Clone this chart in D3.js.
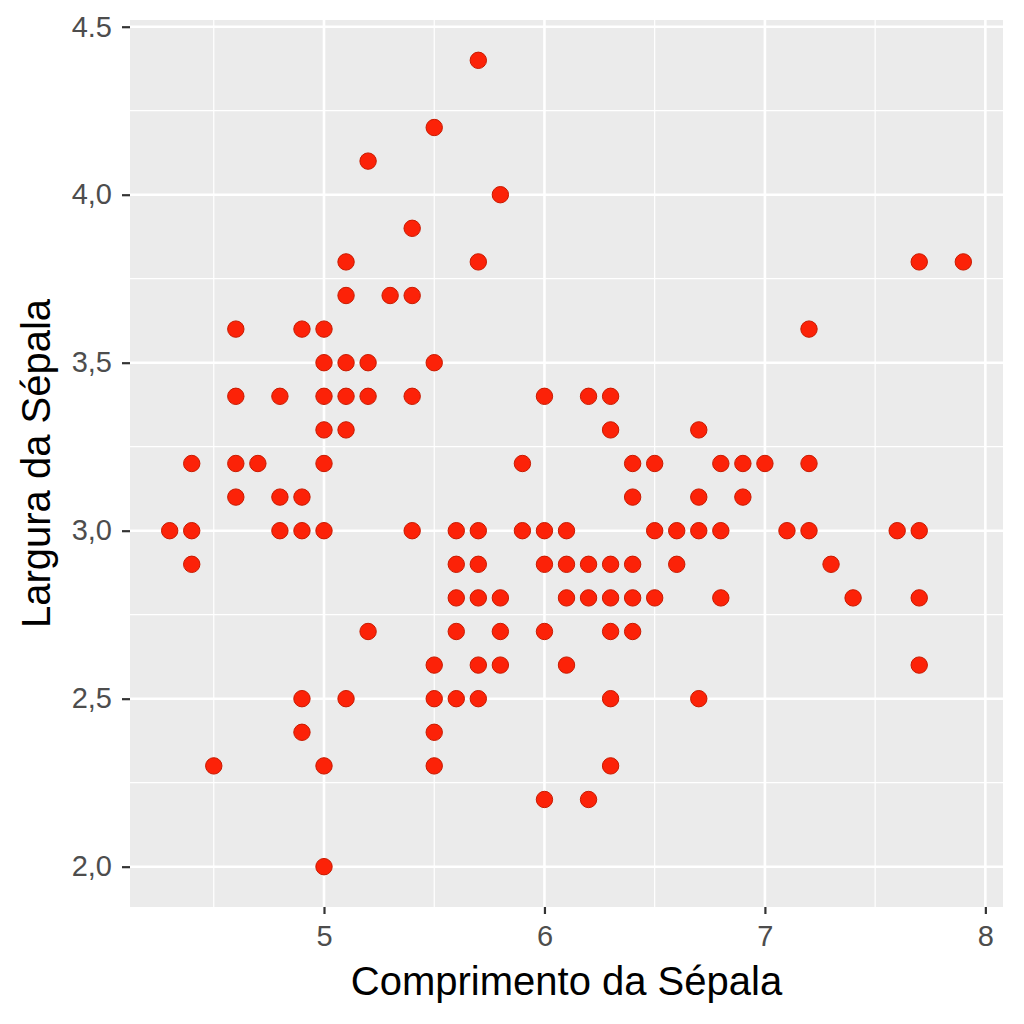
<!DOCTYPE html>
<html>
<head>
<meta charset="utf-8">
<script src="https://cdn.jsdelivr.net/npm/d3@7"></script>
<style>
  body { margin: 0; background: #fff; }
  svg { display: block; font-family: "Liberation Sans", Arial, sans-serif; }
</style>
</head>
<body>
<div id="container"></div>
<script>
const width = 1024;
const height = 1024;

// sepal length values, each with the widths seen at that length
const lengths = [4.3, 4.4, 4.5, 4.6, 4.7, 4.8, 4.9, 5.0, 5.1, 5.2, 5.3, 5.4, 5.5, 5.6, 5.7, 5.8, 5.9,
  6.0, 6.1, 6.2, 6.3, 6.4, 6.5, 6.6, 6.7, 6.8, 6.9, 7.0, 7.1, 7.2, 7.3, 7.4, 7.6, 7.7, 7.9];
const widths = [
  [3.0],
  [3.2, 3.0, 2.9],
  [2.3],
  [3.6, 3.4, 3.2, 3.1],
  [3.2],
  [3.4, 3.1, 3.0],
  [3.6, 3.1, 3.0, 2.5, 2.4],
  [3.6, 3.5, 3.4, 3.3, 3.2, 3.0, 2.3, 2.0],
  [3.8, 3.7, 3.5, 3.4, 3.3, 2.5],
  [4.1, 3.5, 3.4, 2.7],
  [3.7],
  [3.9, 3.7, 3.4, 3.0],
  [4.2, 3.5, 2.6, 2.5, 2.4, 2.3],
  [3.0, 2.9, 2.8, 2.7, 2.5],
  [4.4, 3.8, 3.0, 2.9, 2.8, 2.6, 2.5],
  [4.0, 2.8, 2.7, 2.6],
  [3.2, 3.0],
  [3.4, 3.0, 2.9, 2.7, 2.2],
  [3.0, 2.9, 2.8, 2.6],
  [3.4, 2.9, 2.8, 2.2],
  [3.4, 3.3, 2.9, 2.8, 2.7, 2.5, 2.3],
  [3.2, 3.1, 2.9, 2.8, 2.7],
  [3.2, 3.0, 2.8],
  [3.0, 2.9],
  [3.3, 3.1, 3.0, 2.5],
  [3.2, 3.0, 2.8],
  [3.2, 3.1],
  [3.2],
  [3.0],
  [3.6, 3.2, 3.0],
  [2.9],
  [2.8],
  [3.0],
  [3.8, 3.0, 2.8, 2.6],
  [3.8]
];
const xTicks = [5, 6, 7, 8];
const yTicks = [2.0, 2.5, 3.0, 3.5, 4.0, 4.5];
const yTickLabels = ["2,0", "2,5", "3,0", "3,5", "4,0", "4.5"];

const points = lengths.flatMap((l, i) => widths[i].map(w => ({x: l, y: w})));

const margin = {top: 20, right: 21, bottom: 117, left: 130};

const x = d3.scaleLinear()
    .domain([4.12, 8.08])
    .range([margin.left, width - margin.right]);
const y = d3.scaleLinear()
    .domain([1.88, 4.52])
    .range([height - margin.bottom, margin.top]);

const svg = d3.select("div#container")
    .append("svg")
    .attr("width", width)
    .attr("height", height);

// panel
svg.append("rect")
    .attr("x", margin.left)
    .attr("y", margin.top)
    .attr("width", width - margin.left - margin.right)
    .attr("height", height - margin.top - margin.bottom)
    .attr("fill", "#ebebeb");

// minor grid
const xMinor = [4.5, 5.5, 6.5, 7.5];
const yMinor = yTicks.slice(0, -1).map(t => t + 0.25);

svg.append("g")
    .selectAll("line")
    .data(xMinor)
    .join("line")
    .attr("x1", d => x(d)).attr("x2", d => x(d))
    .attr("y1", margin.top).attr("y2", height - margin.bottom)
    .attr("stroke", "#fff").attr("stroke-width", 1.2);

svg.append("g")
    .selectAll("line")
    .data(yMinor)
    .join("line")
    .attr("x1", margin.left).attr("x2", width - margin.right)
    .attr("y1", d => y(d)).attr("y2", d => y(d))
    .attr("stroke", "#fff").attr("stroke-width", 1.2);

// major grid
svg.append("g")
    .selectAll("line")
    .data(xTicks)
    .join("line")
    .attr("x1", d => x(d)).attr("x2", d => x(d))
    .attr("y1", margin.top).attr("y2", height - margin.bottom)
    .attr("stroke", "#fff").attr("stroke-width", 2.6);

svg.append("g")
    .selectAll("line")
    .data(yTicks)
    .join("line")
    .attr("x1", margin.left).attr("x2", width - margin.right)
    .attr("y1", d => y(d)).attr("y2", d => y(d))
    .attr("stroke", "#fff").attr("stroke-width", 2.6);

// axes
const xAxis = svg.append("g")
    .attr("transform", `translate(0,${height - margin.bottom})`)
    .call(d3.axisBottom(x).tickValues(xTicks).tickFormat(d3.format("d")).tickSize(7).tickPadding(11));
const yAxis = svg.append("g")
    .attr("transform", `translate(${margin.left},0)`)
    .call(d3.axisLeft(y).tickValues(yTicks).tickFormat((d, i) => yTickLabels[i]).tickSize(8).tickPadding(10));

[xAxis, yAxis].forEach(a => {
  a.select(".domain").remove();
  a.selectAll(".tick line").attr("stroke", "#333").attr("stroke-width", 2.2);
  a.selectAll(".tick text")
      .attr("fill", "#4d4d4d")
      .style("font-size", "29px")
      .style("font-family", "'Liberation Sans', Arial, sans-serif");
});

// points
svg.append("g")
    .selectAll("circle")
    .data(points)
    .join("circle")
    .attr("cx", d => x(d.x))
    .attr("cy", d => y(d.y))
    .attr("r", 8.2)
    .attr("fill", "#fc2208")
    .attr("stroke", "#c81a00")
    .attr("stroke-width", 1);

// axis titles
svg.append("text")
    .attr("x", (margin.left + width - margin.right) / 2)
    .attr("y", 995)
    .attr("text-anchor", "middle")
    .style("font-size", "40px")
    .attr("fill", "#000")
    .text("Comprimento da Sépala");

svg.append("text")
    .attr("transform", `translate(50,${(margin.top + height - margin.bottom) / 2}) rotate(-90)`)
    .attr("text-anchor", "middle")
    .style("font-size", "40px")
    .attr("fill", "#000")
    .text("Largura da Sépala");
</script>
</body>
</html>
